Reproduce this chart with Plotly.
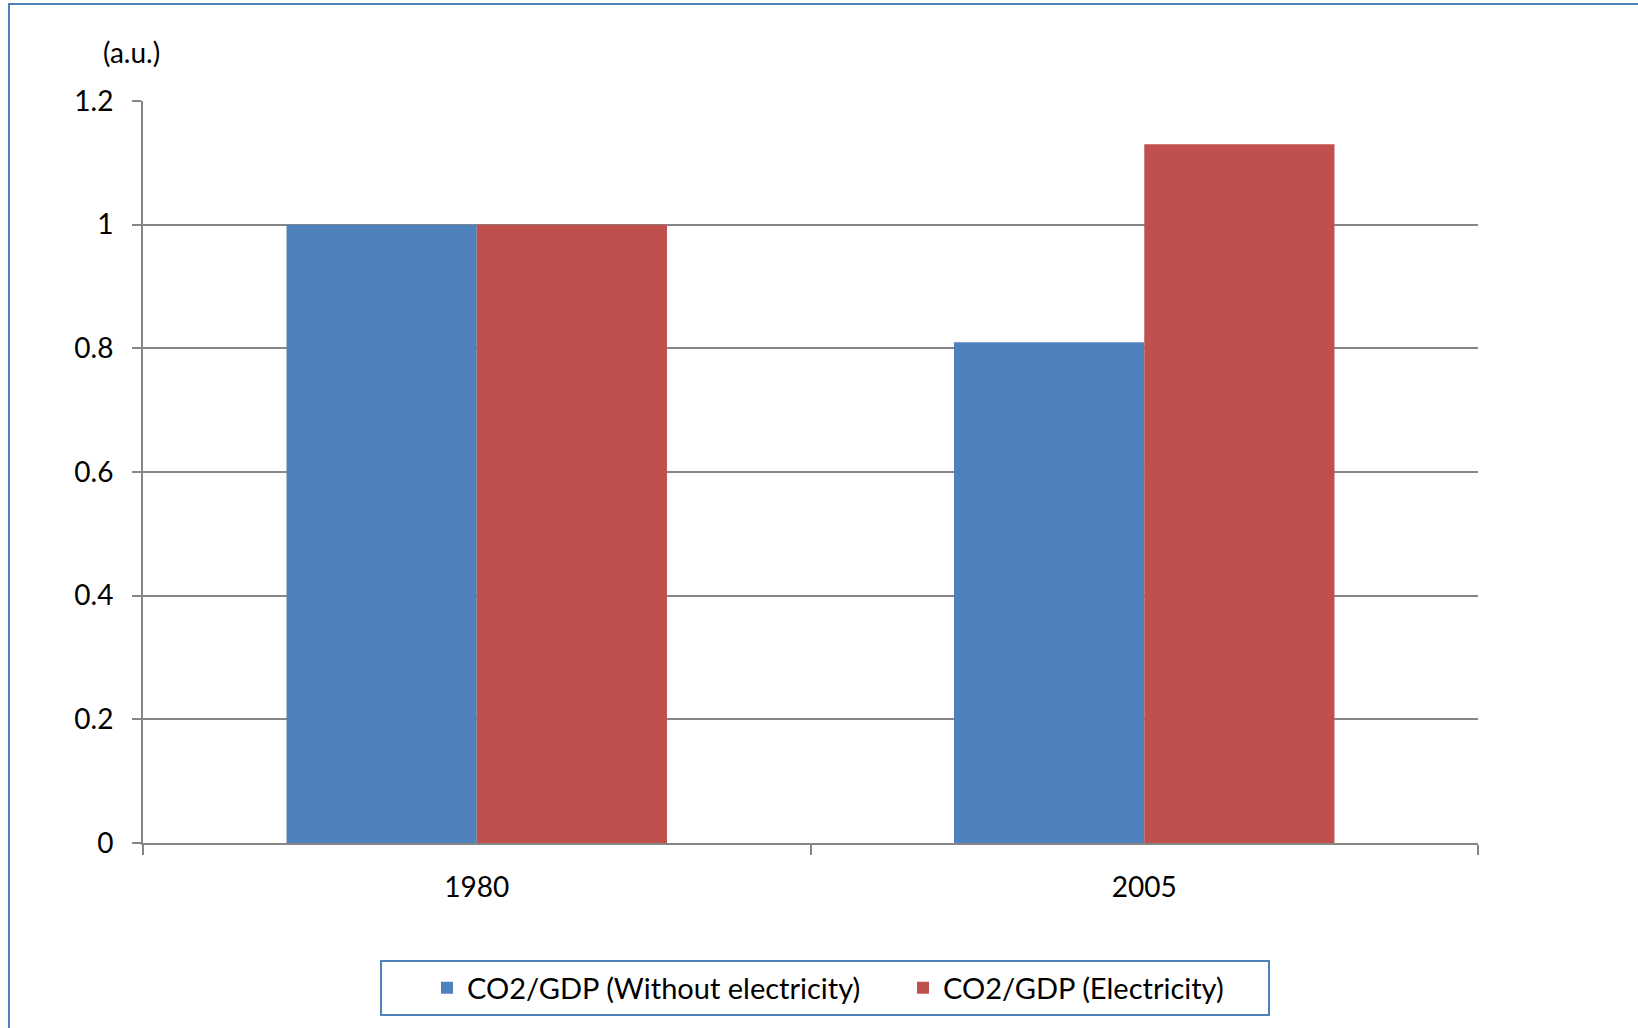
import plotly.graph_objects as go

categories = ["1980", "2005"]
without_elec = [1.0, 0.81]
with_elec = [1.0, 1.13]
series_names = ["CO2/GDP (Without electricity)", "CO2/GDP (Electricity)"]
y_unit = "(a.u.)"

W, H = 1638, 1028
L, R, T, B = 143, 1478, 101, 843
FONT = "Lato"

def px_x(x):
    return (x - L) / (R - L)

def px_y(y):
    return (B - y) / (B - T)

fig = go.Figure()
fig.add_trace(go.Bar(x=categories, y=without_elec, name=series_names[0],
                     marker=dict(color="#4F81BD", line=dict(width=0))))
fig.add_trace(go.Bar(x=categories, y=with_elec, name=series_names[1],
                     marker=dict(color="#C0504D", line=dict(width=0))))

fig.update_layout(
    width=W, height=H,
    margin=dict(l=L, r=W - R, t=T, b=H - B),
    paper_bgcolor="white", plot_bgcolor="white",
    barmode="group", bargap=0.43, bargroupgap=0,
    font=dict(family=FONT, size=27, color="black"),
    showlegend=True,
    legend=dict(orientation="h", x=px_x(427), xanchor="left",
                y=px_y(988), yanchor="middle",
                font=dict(size=29, family=FONT), bgcolor="rgba(0,0,0,0)",
                borderwidth=0, itemwidth=30, entrywidth=431, entrywidthmode="pixels",
                traceorder="normal"),
    xaxis=dict(type="category", tickson="boundaries", ticks="outside", ticklen=10,
               tickwidth=2, tickcolor="#868686", showline=True, linecolor="#868686",
               linewidth=2, showgrid=False, tickfont=dict(size=28), ticklabelstandoff=18,
               fixedrange=True),
    yaxis=dict(range=[0, 1.2], dtick=0.2, ticks="outside", ticklen=9, tickwidth=2,
               tickcolor="#868686", showline=True, linecolor="#868686", linewidth=2,
               showgrid=True, gridcolor="#868686", gridwidth=2, zeroline=False,
               tickfont=dict(size=28), ticklabelstandoff=13, fixedrange=True),
)

fig.add_annotation(text=y_unit, xref="paper", yref="paper", x=px_x(101), y=px_y(52),
                   xanchor="left", yanchor="middle", showarrow=False,
                   font=dict(size=28, family=FONT))

# legend box
fig.add_shape(type="rect", xref="paper", yref="paper",
              x0=px_x(381), x1=px_x(1269), y0=px_y(1015), y1=px_y(961),
              line=dict(color="#4F81BD", width=2), fillcolor="rgba(0,0,0,0)", layer="above")
# outer frame
fig.add_shape(type="rect", xref="paper", yref="paper",
              x0=px_x(9), x1=px_x(1700), y0=px_y(1100), y1=px_y(4),
              line=dict(color="#4F81BD", width=2), fillcolor="rgba(0,0,0,0)", layer="above")

fig.write_html("out.html")
